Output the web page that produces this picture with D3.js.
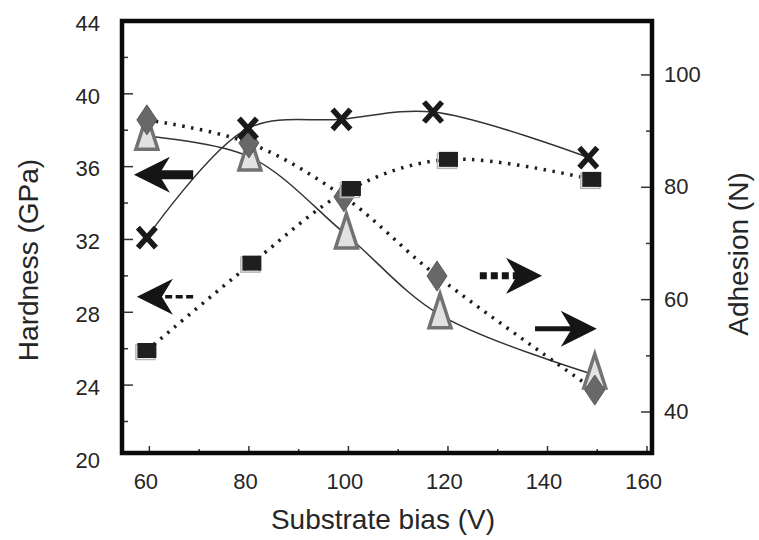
<!DOCTYPE html>
<html>
<head>
<meta charset="utf-8">
<script src="https://cdn.jsdelivr.net/npm/d3@7"></script>
<style>
  html, body { margin: 0; padding: 0; background: #fff; }
  svg { display: block; }
  text { font-family: "Liberation Sans", Arial, Helvetica, sans-serif; fill: #262626; }
</style>
</head>
<body>
<svg id="chart" width="759" height="540"></svg>
<script>
// ---- data ----
const xTicks = [60, 80, 100, 120, 140, 160];
const xMinor = [70, 90, 110, 130, 150];
const hardTicks = [20, 24, 28, 32, 36, 40, 44];
const hardMinor = [22, 26, 30, 34, 38, 42];
const adhTicks = [40, 60, 80, 100];
const adhMinor = [50, 70, 90];

// X markers, solid line, left axis (Hardness)
const crossX = [59.5, 79.8, 98.6, 117.0, 148.2];
const crossH = [32.1, 38.1, 38.6, 39.0, 36.5];
// squares, dotted line, left axis (Hardness)
const squareX = [59.5, 80.6, 100.6, 120.1, 148.9];
const squareH = [25.9, 30.7, 34.8, 36.4, 35.3];
// triangles, solid line, right axis (Adhesion)
const triX = [59.5, 80.2, 99.6, 118.4, 149.5];
const triA = [89.1, 85.4, 71.5, 57.3, 46.6];
// diamonds, dotted line, right axis (Adhesion)
const diaX = [59.5, 80.0, 99.1, 117.8, 149.5];
const diaA = [92.0, 87.9, 78.3, 64.2, 43.9];

// annotation arrows (in data units of x and Hardness)
const arrowTail = [68.8, 68.8, 126.4, 137.5];
const arrowTip  = [56.9, 57.5, 138.9, 149.9];
const arrowH    = [35.55, 28.85, 30.0, 27.1];
const arrowKind = ["solid", "dashed", "dotted", "solid"];

// ---- scales ----
const svg = d3.select("#chart");
const L = 122, R = 652, T = 21, B = 453;
const x = d3.scaleLinear().domain([54.5, 161]).range([L, R]);
const yL = d3.scaleLinear().domain([20.27, 44]).range([B, T]);
const yR = d3.scaleLinear().domain([32.7, 109.6]).range([B, T]);

const g = svg.append("g");

// ---- ticks (inward) ----
const tickG = g.append("g").attr("stroke", "#333").attr("stroke-width", 1.5);
hardTicks.filter(v => yL(v) >= T + 2 && yL(v) <= B - 2).forEach(v => {
  tickG.append("line").attr("x1", L).attr("x2", L + 11).attr("y1", yL(v)).attr("y2", yL(v));
});
hardMinor.forEach(v => {
  tickG.append("line").attr("x1", L).attr("x2", L + 6).attr("y1", yL(v)).attr("y2", yL(v));
});
adhTicks.forEach(v => {
  tickG.append("line").attr("x1", R).attr("x2", R - 11).attr("y1", yR(v)).attr("y2", yR(v));
});
adhMinor.forEach(v => {
  tickG.append("line").attr("x1", R).attr("x2", R - 6).attr("y1", yR(v)).attr("y2", yR(v));
});
xTicks.filter(v => x(v) < R - 3).forEach(v => {
  tickG.append("line").attr("x1", x(v)).attr("x2", x(v)).attr("y1", B).attr("y2", B - 7);
});
xMinor.forEach(v => {
  tickG.append("line").attr("x1", x(v)).attr("x2", x(v)).attr("y1", B).attr("y2", B - 4);
});

// ---- tick labels through d3 axes ----
const axL = g.append("g").attr("transform", `translate(${L},0)`)
  .call(d3.axisLeft(yL).tickValues(hardTicks).tickSize(0).tickPadding(22).tickFormat(d3.format("d")));
const axR = g.append("g").attr("transform", `translate(${R},0)`)
  .call(d3.axisRight(yR).tickValues(adhTicks).tickSize(0).tickPadding(12).tickFormat(d3.format("d")));
const axB = g.append("g").attr("transform", `translate(0,${B})`)
  .call(d3.axisBottom(x).tickValues(xTicks).tickSize(0).tickPadding(20).tickFormat(d3.format("d")));
[axL, axR, axB].forEach(a => {
  a.select(".domain").remove();
  a.selectAll("text").attr("font-size", 22).attr("fill", "#262626")
    .style("font-family", '"Liberation Sans", Arial, sans-serif');
});
axB.selectAll("text").attr("dx", -4);
axL.selectAll("text").attr("dy", "0.42em");
axR.selectAll("text").attr("dy", "0.3em");

// ---- frame ----
g.append("rect").attr("x", L).attr("y", T).attr("width", R - L).attr("height", B - T)
  .attr("fill", "none").attr("stroke", "#0a0a0a").attr("stroke-width", 4.5);

// ---- axis titles ----
g.append("text").attr("x", 383).attr("y", 529).attr("text-anchor", "middle")
  .attr("font-size", 28).text("Substrate bias (V)");
g.append("text").attr("transform", "translate(38,260) rotate(-90)").attr("text-anchor", "middle")
  .attr("font-size", 28).text("Hardness (GPa)");
g.append("text").attr("transform", "translate(748,254) rotate(-90)").attr("text-anchor", "middle")
  .attr("font-size", 28).text("Adhesion (N)");

// ---- lines ----
const curve = d3.curveCatmullRom.alpha(0.5);
const lineL = d3.line().x(d => x(d[0])).y(d => yL(d[1])).curve(curve);
const lineR = d3.line().x(d => x(d[0])).y(d => yR(d[1])).curve(curve);

const crossPts = crossX.map((v, i) => [v, crossH[i]]);
const squarePts = squareX.map((v, i) => [v, squareH[i]]);
const triPts = triX.map((v, i) => [v, triA[i]]);
const diaPts = diaX.map((v, i) => [v, diaA[i]]);

g.append("path").attr("d", lineR(triPts)).attr("fill", "none")
  .attr("stroke", "#333").attr("stroke-width", 1.5);
g.append("path").attr("d", lineL(crossPts)).attr("fill", "none")
  .attr("stroke", "#333").attr("stroke-width", 1.5);
g.append("path").attr("d", lineL(squarePts)).attr("fill", "none")
  .attr("stroke", "#1e1e1e").attr("stroke-width", 3.5).attr("stroke-dasharray", "2.5 6.5");
g.append("path").attr("d", lineR(diaPts)).attr("fill", "none")
  .attr("stroke", "#1e1e1e").attr("stroke-width", 3.5).attr("stroke-dasharray", "2.5 6.5");

// ---- markers ----
// triangles
g.selectAll("path.tri").data(triPts).join("path").attr("class", "tri")
  .attr("transform", d => `translate(${x(d[0])},${yR(d[1])})`)
  .attr("d", "M0,-21 L11,13 L-11,13 Z")
  .attr("fill", "#e2e2e2").attr("stroke", "#727272").attr("stroke-width", 3.5)
  .attr("stroke-linejoin", "miter");
// diamonds
g.selectAll("path.dia").data(diaPts).join("path").attr("class", "dia")
  .attr("transform", d => `translate(${x(d[0])},${yR(d[1])})`)
  .attr("d", "M0,-15 L10,0 L0,15 L-10,0 Z")
  .attr("fill", "#686868").attr("stroke", "#5a5a5a").attr("stroke-width", 1);
// squares
g.selectAll("rect.sq-sh").data(squarePts).join("rect").attr("class", "sq-sh")
  .attr("x", d => x(d[0]) - 11).attr("y", d => yL(d[1]) - 6)
  .attr("width", 19).attr("height", 15).attr("fill", "none")
  .attr("stroke", "#b5b5b5").attr("stroke-width", 1.5);
g.selectAll("rect.sq").data(squarePts).join("rect").attr("class", "sq")
  .attr("x", d => x(d[0]) - 9.5).attr("y", d => yL(d[1]) - 7.5)
  .attr("width", 19).attr("height", 15).attr("fill", "#1f1f1f");
// crosses
g.selectAll("path.cross").data(crossPts).join("path").attr("class", "cross")
  .attr("transform", d => `translate(${x(d[0])},${yL(d[1])})`)
  .attr("d", "M-9,-10 L9,10 M9,-10 L-9,10")
  .attr("fill", "none").attr("stroke", "#1a1a1a").attr("stroke-width", 5.5);

// ---- arrows ----
arrowTail.forEach((tail, i) => {
  const xt = x(tail), xp = x(arrowTip[i]), yy = yL(arrowH[i]);
  const dir = xp < xt ? -1 : 1;        // direction of the tip
  const headLen = 36, half = 18, notch = 25;
  const back = xp - dir * headLen, nx = xp - dir * notch;
  const kind = arrowKind[i];
  const shaftW = kind === "solid" ? (i === 0 ? 9 : 5) : (kind === "dashed" ? 3.5 : 7);
  const sh = g.append("line").attr("x1", xt).attr("x2", nx + dir * 2).attr("y1", yy).attr("y2", yy)
    .attr("stroke", "#151515").attr("stroke-width", shaftW);
  if (kind === "dashed") sh.attr("stroke-dasharray", "7 3.5");
  if (kind === "dotted") sh.attr("stroke-dasharray", "7 4");
  g.append("path")
    .attr("d", `M${xp},${yy} L${back},${yy - half} L${nx},${yy} L${back},${yy + half} Z`)
    .attr("fill", "#151515");
});
</script>
</body>
</html>
